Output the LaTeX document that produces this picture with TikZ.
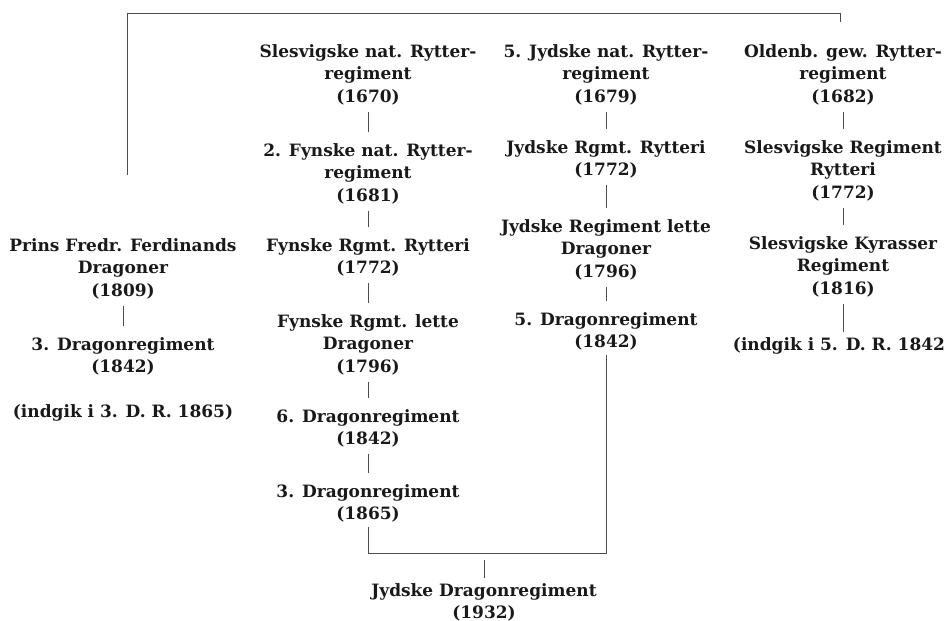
\documentclass[tikz,border=0pt]{standalone}
\usepackage{fontspec}
\setmainfont{DejaVu Serif}
\begin{document}
\begin{tikzpicture}[x=1pt,y=-1pt,
  unit/.style={anchor=north,align=center,inner xsep=2pt,inner ysep=5pt,
    font=\fontsize{17}{22.5}\selectfont\bfseries,text=black!90},
  link/.style={draw=black!70,line width=0.9pt,shorten <=2pt,shorten >=6pt},
  bracket/.style={draw=black!70,line width=0.9pt}]
\useasboundingbox (0,0) rectangle (946,621);
% column 1
\node[unit] (p1) at (123,233) {Prins Fredr. Ferdinands\\Dragoner\\(1809)};
\node[unit] (p2) at (123,332) {3. Dragonregiment\\(1842)};
\node[unit] (p3) at (123,399) {(indgik i 3. D. R. 1865)};
% column 2
\node[unit] (s1) at (368,39) {Slesvigske nat. Rytter-\\regiment\\(1670)};
\node[unit] (s2) at (368,138) {2. Fynske nat. Rytter-\\regiment\\(1681)};
\node[unit] (s3) at (368,233) {Fynske Rgmt. Rytteri\\(1772)};
\node[unit] (s4) at (368,309) {Fynske Rgmt. lette\\Dragoner\\(1796)};
\node[unit] (s5) at (368,404) {6. Dragonregiment\\(1842)};
\node[unit] (s6) at (368,479) {3. Dragonregiment\\(1865)};
% column 3
\node[unit] (j1) at (606,39) {5. Jydske nat. Rytter-\\regiment\\(1679)};
\node[unit] (j2) at (606,135) {Jydske Rgmt. Rytteri\\(1772)};
\node[unit] (j3) at (606,214) {Jydske Regiment lette\\Dragoner\\(1796)};
\node[unit] (j4) at (606,307) {5. Dragonregiment\\(1842)};
% column 4
\node[unit] (o1) at (843,39) {Oldenb. gew. Rytter-\\regiment\\(1682)};
\node[unit] (o2) at (843,135) {Slesvigske Regiment\\Rytteri\\(1772)};
\node[unit] (o3) at (843,231) {Slesvigske Kyrasser\\Regiment\\(1816)};
\node[unit] (o4) at (839,332) {(indgik i 5. D. R. 1842};
% final
\node[unit] (jd) at (484,578) {Jydske Dragonregiment\\(1932)};
% links
\draw[link] (p1) -- (p2);
\draw[link] (s1) -- (s2);
\draw[link] (s2) -- (s3);
\draw[link] (s3) -- (s4);
\draw[link] (s4) -- (s5);
\draw[link] (s5) -- (s6);
\draw[link] (j1) -- (j2);
\draw[link] (j2) -- (j3);
\draw[link] (j3) -- (j4);
\draw[link] (o1) -- (o2);
\draw[link] (o2) -- (o3);
\draw[link,shorten >=0pt] (o3.south) -- (o3.south |- o4.north);
% bottom bracket
\coordinate (m) at (484,553);
\draw[bracket] (s6.south) -- (s6.south |- m) -| (j4.south);
\draw[bracket,shorten <=7pt] (m) -- (jd.north);
% top bracket
\coordinate (tl) at (127,175);
\coordinate (tla) at (127,13);
\coordinate (tra) at (840,13);
\coordinate (tr) at (840,22);
\draw[bracket] (tl) -- (tla) -- (tra) -- (tr);
\end{tikzpicture}
\end{document}
